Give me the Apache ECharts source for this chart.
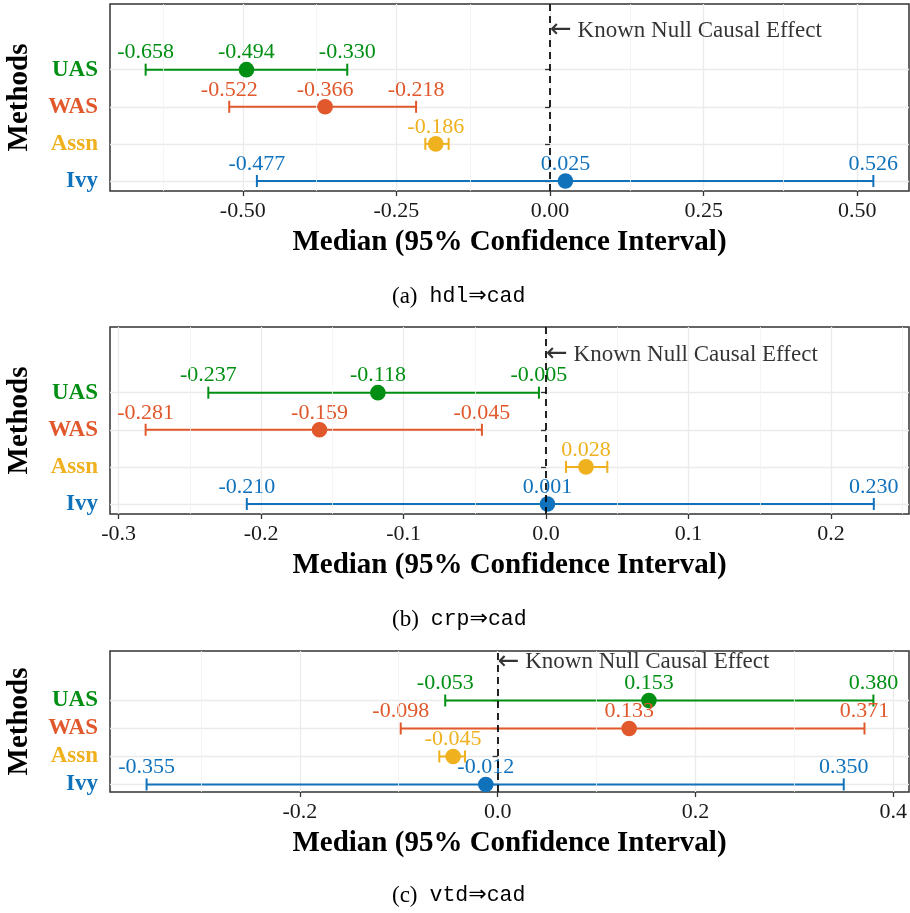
<!DOCTYPE html>
<html>
<head>
<meta charset="utf-8">
<script src="https://cdn.jsdelivr.net/npm/echarts@6/dist/echarts.min.js"></script>
<style>
html,body{margin:0;padding:0;background:#fff;}
#chart{width:910px;height:913px;}
</style>
</head>
<body>
<div id="chart"></div>
<script>
// ---- Data ----
const methods = ['Ivy', 'Assn', 'WAS', 'UAS'];
const methodColors = ['#1172BC', '#EFB11E', '#E0582B', '#008F12'];
const showBounds = [true, false, true, true];

// (a) hdl => cad
const hdlLower  = [-0.477, -0.203, -0.522, -0.658];
const hdlMedian = [ 0.025, -0.186, -0.366, -0.494];
const hdlUpper  = [ 0.526, -0.165, -0.218, -0.330];

// (b) crp => cad
const crpLower  = [-0.210, 0.014, -0.281, -0.237];
const crpMedian = [ 0.001, 0.028, -0.159, -0.118];
const crpUpper  = [ 0.230, 0.043, -0.045, -0.005];

// (c) vtd => cad
const vtdLower  = [-0.355, -0.059, -0.098, -0.053];
const vtdMedian = [-0.012, -0.045,  0.133,  0.153];
const vtdUpper  = [ 0.350, -0.033,  0.371,  0.380];

const hdlTicks = [-0.5, -0.25, 0, 0.25, 0.5];
const hdlMinor = [-0.625, -0.375, -0.125, 0.125, 0.375];
const crpTicks = [-0.3, -0.2, -0.1, 0, 0.1, 0.2];
const crpMinor = [-0.25, -0.15, -0.05, 0.05, 0.15, 0.25];
const vtdTicks = [-0.2, 0, 0.2, 0.4];
const vtdMinor = [-0.3, -0.1, 0.1, 0.3];

const captionTags = ['(a)', '(b)', '(c)'];
const captionFrom = ['hdl', 'crp', 'vtd'];
const captionTo = 'cad';
const annotationText = 'Known Null Causal Effect';
const nullEffect = 0;

// ---- Layout ----
const panels = [
  {lower: hdlLower, median: hdlMedian, upper: hdlUpper, ticks: hdlTicks, minor: hdlMinor,
   xmin: -0.716, xmax: 0.584, dec: 2, top: 4, height: 187, annY: 5.05, capY: 298},
  {lower: crpLower, median: crpMedian, upper: crpUpper, ticks: crpTicks, minor: crpMinor,
   xmin: -0.306, xmax: 0.2547, dec: 1, top: 327, height: 187, annY: 5.03, capY: 621},
  {lower: vtdLower, median: vtdMedian, upper: vtdUpper, ticks: vtdTicks, minor: vtdMinor,
   xmin: -0.392, xmax: 0.416, dec: 1, top: 651, height: 141, annY: 5.38, capY: 897}
];

const SERIF = '"Liberation Serif", "Times New Roman", "DejaVu Serif", serif';
const MONO = '"Liberation Mono", "DejaVu Sans Mono", monospace';
const catValues = [1, 2, 3, 4];

const richCats = {};
methods.forEach((m, i) => {
  richCats['c' + i] = {color: methodColors[i], fontFamily: SERIF, fontWeight: 'bold', fontSize: 23};
});

const grids = [], xAxes = [], yAxes = [], series = [], graphics = [];

panels.forEach((p, k) => {
  grids.push({left: 110, width: 799, top: p.top, height: p.height, show: true,
    outerBoundsMode: 'none', containLabel: false,
    borderColor: '#333', borderWidth: 1.5, backgroundColor: 'transparent'});

  xAxes.push({
    type: 'value', gridIndex: k, min: p.xmin, max: p.xmax,
    axisLine: {show: false},
    axisTick: {show: true, customValues: p.ticks, length: 5, lineStyle: {color: '#333', width: 1.3}},
    axisLabel: {customValues: p.ticks, margin: 9, color: '#1a1a1a', fontFamily: SERIF, fontSize: 22,
      formatter: v => Number(v).toFixed(p.dec)},
    splitLine: {show: true, lineStyle: {color: '#EBEBEB', width: 1.3}},
    name: 'Median (95% Confidence Interval)', nameLocation: 'middle', nameGap: 37,
    nameTextStyle: {fontFamily: SERIF, fontWeight: 'bold', fontSize: 29, color: '#000'}
  });

  yAxes.push({
    type: 'value', gridIndex: k, min: 0.73, max: 5.77,
    axisLine: {show: false},
    axisTick: {show: true, customValues: catValues, length: 5, lineStyle: {color: '#333', width: 1.3}},
    axisLabel: {customValues: catValues, margin: 12, rich: richCats,
      formatter: v => { const i = Math.round(v) - 1; return '{c' + i + '|' + methods[i] + '}'; }},
    splitLine: {show: true, lineStyle: {color: '#EBEBEB', width: 1.3}},
    name: 'Methods', nameLocation: 'middle', nameGap: 76, nameRotate: 90,
    nameTextStyle: {fontFamily: SERIF, fontWeight: 'bold', fontSize: 29, color: '#000'}
  });

  // minor vertical gridlines
  series.push({
    type: 'line', xAxisIndex: k, yAxisIndex: k, data: [], silent: true, z: 0,
    markLine: {silent: true, symbol: 'none', animation: false, label: {show: false},
      lineStyle: {color: '#F3F3F3', width: 0.8, type: 'solid'},
      data: p.minor.map(v => ({xAxis: v}))}
  });

  const data = methods.map((m, i) => [i + 1, p.lower[i], p.median[i], p.upper[i], showBounds[i] ? 1 : 0]);

  series.push({
    type: 'custom', xAxisIndex: k, yAxisIndex: k, z: 3, animation: false,
    encode: {x: [1, 2, 3], y: 0},
    data: data,
    renderItem: (params, api) => {
      const yv = api.value(0);
      const lo = api.value(1), md = api.value(2), hi = api.value(3), sb = api.value(4);
      const a = api.coord([lo, yv]), b = api.coord([md, yv]), c = api.coord([hi, yv]);
      const col = methodColors[yv - 1];
      const ls = {stroke: col, lineWidth: 2};
      const cap = 6;
      const font = '22px ' + SERIF;
      const children = [
        {type: 'line', shape: {x1: a[0], y1: a[1], x2: c[0], y2: c[1]}, style: ls, z2: 1},
        {type: 'line', shape: {x1: a[0], y1: a[1] - cap, x2: a[0], y2: a[1] + cap}, style: ls, z2: 1},
        {type: 'line', shape: {x1: c[0], y1: c[1] - cap, x2: c[0], y2: c[1] + cap}, style: ls, z2: 1},
        {type: 'circle', shape: {cx: b[0], cy: b[1], r: 7.8}, style: {fill: col}, z2: 2},
        {type: 'text', z2: 5, style: {text: md.toFixed(3), x: b[0], y: b[1] - 17, fill: col,
          font: font, align: 'center', verticalAlign: 'middle'}}
      ];
      if (sb) {
        children.push({type: 'text', z2: 5, style: {text: lo.toFixed(3), x: a[0], y: a[1] - 17, fill: col,
          font: font, align: 'center', verticalAlign: 'middle'}});
        children.push({type: 'text', z2: 5, style: {text: hi.toFixed(3), x: c[0], y: c[1] - 17, fill: col,
          font: font, align: 'center', verticalAlign: 'middle'}});
      }
      return {type: 'group', children: children};
    }
  });

  // null effect dashed line + annotation
  series.push({
    type: 'scatter', xAxisIndex: k, yAxisIndex: k, z: 10, silent: true, animation: false,
    symbolSize: 0,
    data: [[nullEffect, p.annY]],
    label: {show: true, position: 'right', distance: 0,
      formatter: '{a|\u2190}{t| ' + annotationText + '}',
      rich: {
        a: {fontFamily: '"DejaVu Sans", sans-serif', fontSize: 26, color: '#000'},
        t: {fontFamily: SERIF, fontSize: 23, color: '#000'}
      }},
    markLine: {silent: true, symbol: 'none', animation: false, label: {show: false},
      lineStyle: {color: '#000', width: 1.7, type: [7, 5]},
      data: [{xAxis: nullEffect}]}
  });

  graphics.push({
    type: 'text', left: 392, top: p.capY - 13,
    style: {
      text: '{t|' + captionTags[k] + '}{m1|' + captionFrom[k] + '}{r|\u21D2}{m|' + captionTo + '}',
      rich: {
        t: {fontFamily: SERIF, fontSize: 23, fill: '#000'},
        m1: {fontFamily: MONO, fontSize: 21.5, fill: '#000', padding: [0, 0, 0, 12]},
        m: {fontFamily: MONO, fontSize: 21.5, fill: '#000'},
        r: {fontFamily: '"DejaVu Sans", sans-serif', fontSize: 22, fill: '#000'}
      }
    }
  });
});

const chart = echarts.init(document.getElementById('chart'), null, {renderer: 'canvas'});
chart.setOption({
  animation: false,
  backgroundColor: '#fff',
  grid: grids,
  xAxis: xAxes,
  yAxis: yAxes,
  series: series,
  graphic: graphics
});
</script>
</body>
</html>
